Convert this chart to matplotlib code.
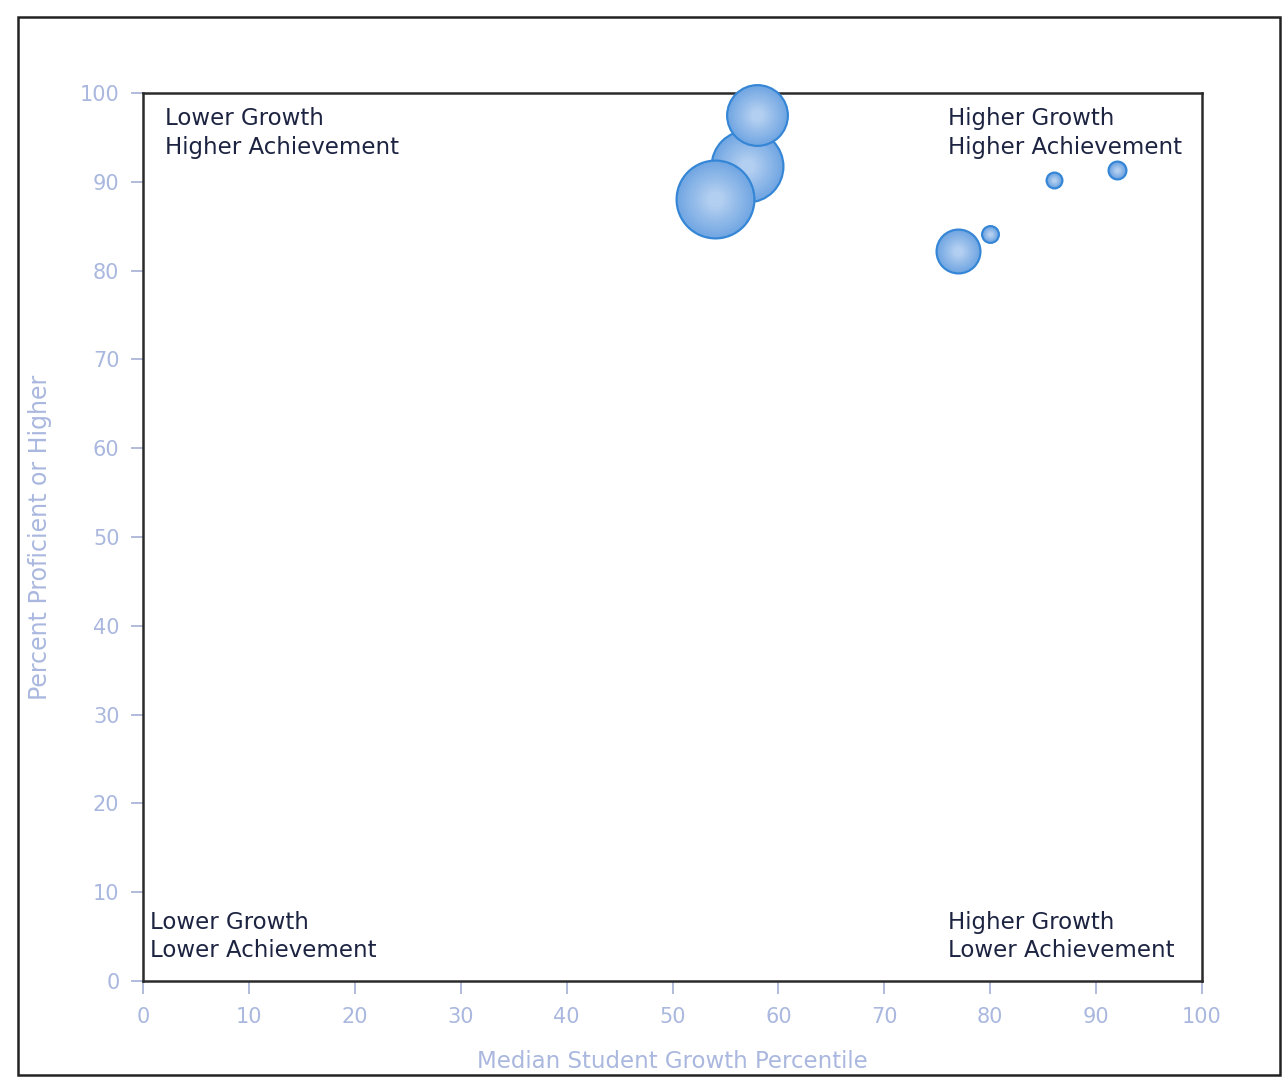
import numpy as np
import matplotlib
matplotlib.use('Agg')
import matplotlib.pyplot as plt
from matplotlib.patches import Rectangle
from matplotlib.colors import to_rgb

# Median growth percentile vs percent proficient, bubble area = students tested
growth = [57, 58, 54, 77, 80, 86, 92]
proficient = [91.8, 97.5, 88.1, 82.2, 84.1, 90.2, 91.3]
students = [1370, 990, 1600, 530, 90, 81, 100]

x_ticks = [0, 10, 20, 30, 40, 50, 60, 70, 80, 90, 100]
y_ticks = [0, 10, 20, 30, 40, 50, 60, 70, 80, 90, 100]

quadrant_labels = [
    ('Lower Growth\nHigher Achievement', 2.1, 98.4),
    ('Higher Growth\nHigher Achievement', 76.0, 98.4),
    ('Lower Growth\nLower Achievement', 0.7, 7.9),
    ('Higher Growth\nLower Achievement', 76.0, 7.9),
]

LABEL_BLUE = '#aab8df'
TICK_BLUE = '#a4b0d4'
TEXT_DARK = '#1d2442'
EDGE_BLUE = '#3586d6'
MID_BLUE = '#74a8e3'
FILL_BLUE = '#b2cef0'

fig = plt.figure(figsize=(12.83, 10.86), dpi=100)
ax = fig.add_axes([143 / 1283, 1 - 981 / 1086, 1059 / 1283, 888 / 1086])

# outer page frame
fig.add_artist(Rectangle((18 / 1283, 1 - 1075 / 1086), 1262 / 1283, 1058 / 1086,
                         transform=fig.transFigure, fill=False,
                         edgecolor='#222222', linewidth=1.8))

# bubbles with a soft radial shading, drawn one by one to keep overlap order
px_to_pt2 = (2 * 72 / fig.dpi) ** 2
mid_rgb = np.array(to_rgb(MID_BLUE))
fill_rgb = np.array(to_rgb(FILL_BLUE))
z = 3
for gx, py, n in zip(growth, proficient, students):
    base = n * px_to_pt2
    ax.scatter([gx], [py], s=base, color=EDGE_BLUE, linewidths=0,
               zorder=z, clip_on=False)
    r_in = 1 - 2.2 / np.sqrt(n)
    for frac in np.linspace(r_in, 0.2, 12):
        t = 1 - (frac - 0.2) / max(r_in - 0.2, 1e-6)
        col = mid_rgb * (1 - t) + fill_rgb * t
        ax.scatter([gx], [py], s=base * frac ** 2, color=col, linewidths=0,
                   zorder=z, clip_on=False)
    z += 1

for text, tx, ty in quadrant_labels:
    ax.text(tx, ty, text, fontsize=16.5, color=TEXT_DARK, ha='left', va='top',
            linespacing=1.3, zorder=20)

ax.set_xlim(0, 100)
ax.set_ylim(0, 100)
ax.set_xticks(x_ticks)
ax.set_yticks(y_ticks)
ax.tick_params(axis='both', direction='out', length=9, width=1.2,
               color=TICK_BLUE, labelcolor=LABEL_BLUE, labelsize=15)
ax.tick_params(axis='x', pad=10)
ax.tick_params(axis='y', pad=8)
for sp in ax.spines.values():
    sp.set_color('#2b2b2b')
    sp.set_linewidth(1.8)

ax.set_xlabel('Median Student Growth Percentile', fontsize=16.5,
              color=LABEL_BLUE)
ax.set_ylabel('Percent Proficient or Higher', fontsize=17,
              color=LABEL_BLUE)
ax.xaxis.set_label_coords(0.5, -0.091)
ax.yaxis.set_label_coords(-0.097, 0.5)
ax.xaxis.label.set_va('center')
ax.yaxis.label.set_va('center')

fig.savefig('out.png', dpi=100)
